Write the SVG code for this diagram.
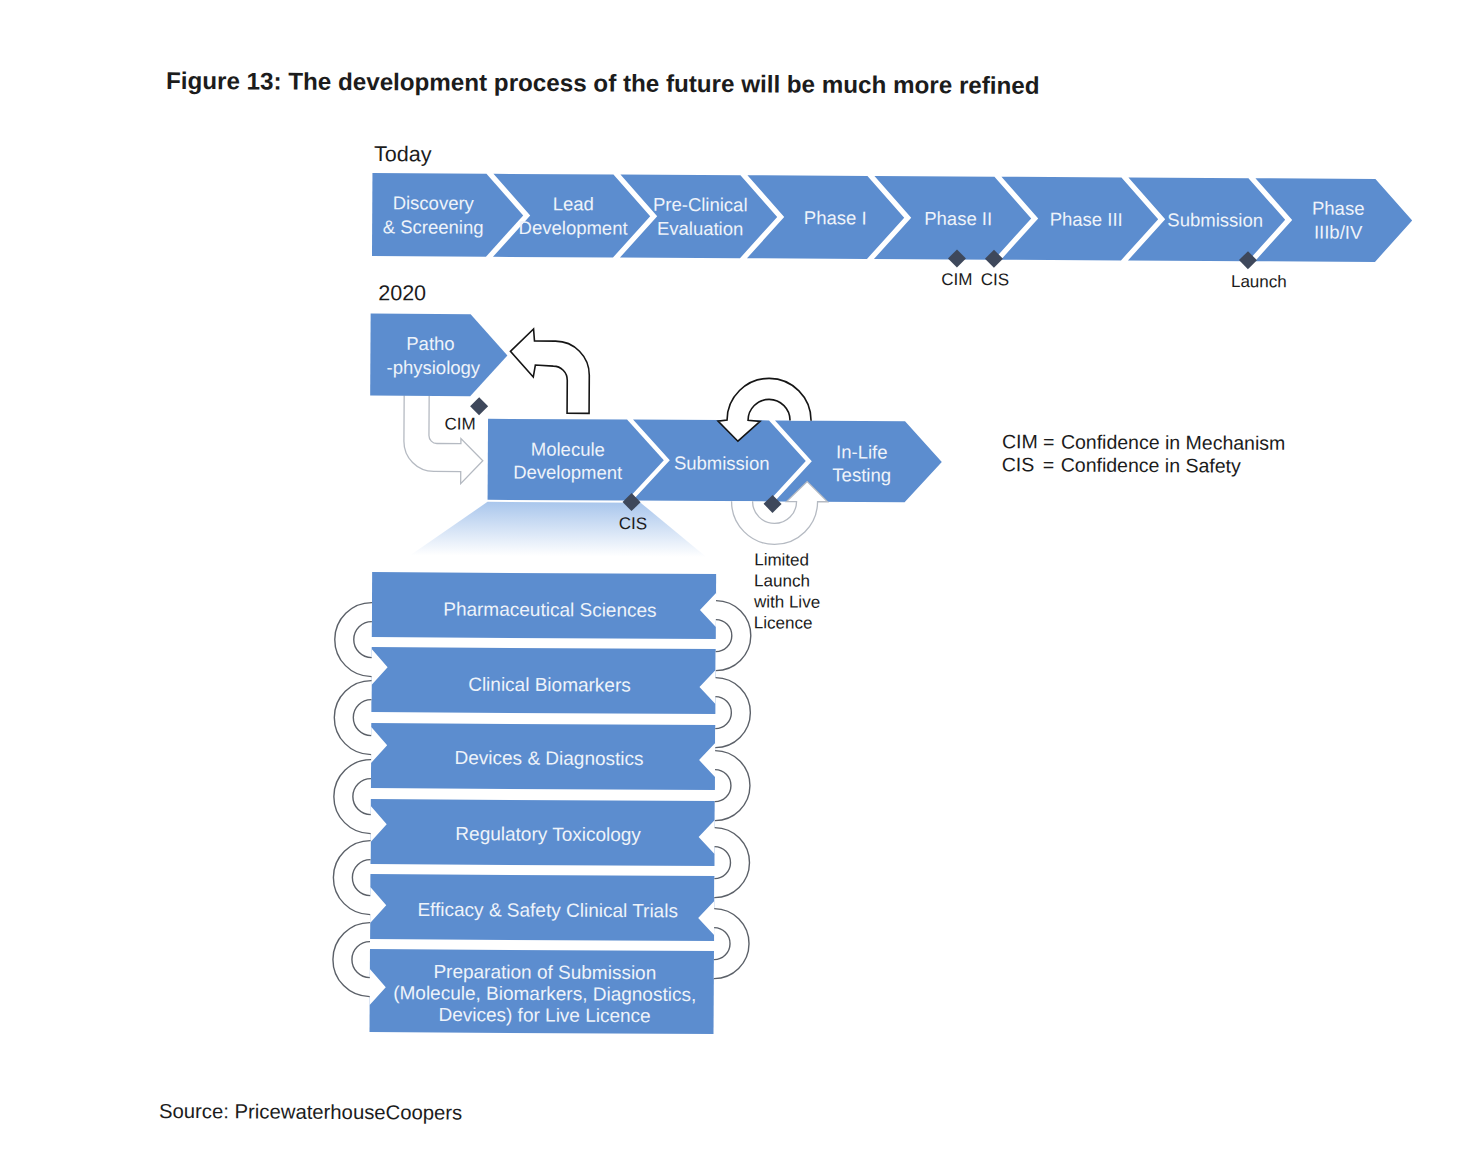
<svg xmlns="http://www.w3.org/2000/svg" width="1462" height="1153" viewBox="0 0 1462 1153">
<defs>
<style>
.t{font-family:"Liberation Sans",Arial,Helvetica,sans-serif}
.blk{fill:#1c1c1c}
.wl{fill:#eef3fa;text-anchor:middle}
.s185{font-size:18.5px}
.s19{font-size:19px}
.s17{font-size:17px}
.mid{text-anchor:middle}
.bx{fill:#5c8dcf}
.dm{fill:#3e485b}
.wf{fill:#fff;stroke:none}
.ls{fill:none;stroke:#5b6068;stroke-width:1.4}
.ks{fill:none;stroke:#151515;stroke-width:1.6;stroke-linejoin:miter}
.ps{fill:none;stroke:#b5bac2;stroke-width:1.3}
</style>
<linearGradient id="fade" x1="0" y1="0" x2="0" y2="1">
<stop offset="0" stop-color="#a9c6ec"/>
<stop offset="1" stop-color="#ffffff"/>
</linearGradient>
<path id="dia" class="dm" d="M0 -9 L9 0 L0 9 L-9 0Z"/>
</defs>
<rect width="1462" height="1153" fill="#fff"/>
<g transform="rotate(0.33 700 600)">

<text class="t blk" x="163" y="92" font-size="24.2" font-weight="bold">Figure 13: The development process of the future will be much more refined</text>
<text class="t blk" x="371.5" y="163" font-size="21.5">Today</text>
<text class="t blk" x="376.5" y="302" font-size="21.5">2020</text>

<!-- Today row -->
<g id="today-row">
<g id="n-discovery"><polygon class="bx" points="370,175 484,175 521,216.5 484,258 370,258"/>
<text class="t wl s185" x="431" y="211">Discovery</text><text class="t wl s185" x="431" y="235">&amp; Screening</text></g>
<g id="n-lead"><polygon class="bx" points="491,175 611,175 648,216.5 611,258 491,258 528,216.5"/>
<text class="t wl s185" x="571" y="211">Lead</text><text class="t wl s185" x="571" y="235">Development</text></g>
<g id="n-preclinical"><polygon class="bx" points="618,175 738,175 775,216.5 738,258 618,258 655,216.5"/>
<text class="t wl s185" x="698" y="211">Pre-Clinical</text><text class="t wl s185" x="698" y="235">Evaluation</text></g>
<g id="n-phase1"><polygon class="bx" points="745,175 865,175 902,216.5 865,258 745,258 782,216.5"/>
<text class="t wl s185" x="833" y="223.5">Phase I</text></g>
<g id="n-phase2"><polygon class="bx" points="872,175 992,175 1029,216.5 992,258 872,258 909,216.5"/>
<text class="t wl s185" x="956" y="223.5">Phase II</text></g>
<g id="n-phase3"><polygon class="bx" points="999,175 1119,175 1156,216.5 1119,258 999,258 1036,216.5"/>
<text class="t wl s185" x="1084" y="223.5">Phase III</text></g>
<g id="n-submission-today"><polygon class="bx" points="1126,175 1246,175 1283,216.5 1246,258 1126,258 1163,216.5"/>
<text class="t wl s185" x="1213" y="223.5">Submission</text></g>
<g id="n-phase3b"><polygon class="bx" points="1253,175 1373,175 1410,216.5 1373,258 1253,258 1290,216.5"/>
<text class="t wl s185" x="1336" y="211">Phase</text><text class="t wl s185" x="1336" y="235">IIIb/IV</text></g>
<g id="today-milestones">
<use href="#dia" x="955" y="257"/><use href="#dia" x="992" y="257"/><use href="#dia" x="1246" y="257"/>
<text class="t blk s17 mid" x="955" y="283.5">CIM</text>
<text class="t blk s17 mid" x="993" y="283.5">CIS</text>
<text class="t blk s17 mid" x="1257" y="284">Launch</text>
</g>
</g>

<!-- 2020 -->
<polygon id="projection" fill="url(#fade)" points="487,503 640,503 706,557 410,557"/>

<g id="connectors-2020">
<path class="wf" d="M403 395 L428 395 L428 437 A8 8 0 0 0 436 445 L460 445 L460 440 L482 462 L460 485 L460 473 L433 473 A30 30 0 0 1 403 443 Z"/>
<path class="ps" d="M428 397 L428 437 A8 8 0 0 0 436 445 L460 445 L460 440 L482 462 L460 485 L460 473 L433 473 A30 30 0 0 1 403 443 L403 397"/>
</g>

<g id="n-patho"><polygon class="bx" points="369,315.5 469,315.5 506,356.5 469,397.5 369,397.5"/>
<text class="t wl s185" x="429" y="351.5">Patho</text><text class="t wl s185" x="432" y="375.5">-physiology</text></g>

<g id="n-molecule"><polygon class="bx" points="487,420 626,420 663,460.5 626,501 487,501"/>
<text class="t wl s185" x="567" y="456.5">Molecule</text><text class="t wl s185" x="567" y="479.5">Development</text></g>
<g id="n-submission"><polygon class="bx" points="632,420 768,420 805,460.5 768,501 632,501 669,460.5"/>
<text class="t wl s185" x="721" y="469.5">Submission</text></g>
<g id="n-inlife"><polygon class="bx" points="774,420 904,420 941,460.5 904,501 774,501 811,460.5"/>
<text class="t wl s185" x="861" y="457.5">In-Life</text><text class="t wl s185" x="861" y="480.5">Testing</text></g>

<g id="connectors-loops-2020">
<path class="wf" d="M731 501 A43 43 0 0 0 817 501 L827 501 L806.5 481 L786 501 L796 501 A22 22 0 0 1 752 501 Z"/>
<path class="ps" d="M731 501 A43 43 0 0 0 817 501 L827 501 L806.5 481 L786 501 L796 501 A22 22 0 0 1 752 501"/>
<path class="wf" d="M810 420 A42 42 0 0 0 726 420 L717 421 L737 441 L759 421 L747 420 A21 21 0 0 1 789 420 Z"/>
<path class="ks" d="M810 420 A42 42 0 0 0 726 420 L717 421 L737 441 L759 421 L747 420 A21 21 0 0 1 789 420"/>
<path class="ks" style="fill:#fff" d="M509 352.5 L532 330 L533 342 L554 342 A34 34 0 0 1 588 376 L588 414 L566 414 L566 381 A14 14 0 0 0 552 367 L534 366 L532 378 Z"/>
</g>

<g id="milestones-2020">
<use href="#dia" x="478" y="407.5"/>
<use href="#dia" x="631" y="502.5"/>
<use href="#dia" x="772" y="503.5"/>
<text class="t blk s17 mid" x="459" y="431">CIM</text>
<text class="t blk s17 mid" x="632.5" y="529.5">CIS</text>
<text class="t blk s17" x="754" y="565">Limited</text>
<text class="t blk s17" x="754" y="586">Launch</text>
<text class="t blk s17" x="754" y="607">with Live</text>
<text class="t blk s17" x="754" y="628">Licence</text>
</g>

<g id="legend">
<text class="t blk" font-size="19.5" x="1001" y="446.5">CIM<tspan x="1042">=</tspan><tspan x="1060">Confidence in Mechanism</tspan></text>
<text class="t blk" font-size="19.5" x="1001" y="469.5">CIS<tspan x="1042">=</tspan><tspan x="1060">Confidence in Safety</tspan></text>
</g>

<!-- stack -->
<g id="n-pharma"><rect class="bx" x="372" y="574" width="344" height="65"/>
<text class="t wl s19" x="550" y="617">Pharmaceutical Sciences</text></g>
<g id="n-biomarkers"><rect class="bx" x="372" y="649" width="344" height="65"/>
<text class="t wl s19" x="550" y="692">Clinical Biomarkers</text></g>
<g id="n-devices"><rect class="bx" x="372" y="725" width="344" height="65"/>
<text class="t wl s19" x="550" y="765.5">Devices &amp; Diagnostics</text></g>
<g id="n-regtox"><rect class="bx" x="372" y="801" width="344" height="65"/>
<text class="t wl s19" x="549.5" y="841.5">Regulatory Toxicology</text></g>
<g id="n-efficacy"><rect class="bx" x="372" y="876" width="344" height="65"/>
<text class="t wl s19" x="549.5" y="917.5">Efficacy &amp; Safety Clinical Trials</text></g>
<g id="n-prep"><rect class="bx" x="372" y="951" width="344" height="83"/>
<text class="t wl s19" x="547" y="979.5">Preparation of Submission</text>
<text class="t wl s19" x="547" y="1001">(Molecule, Biomarkers, Diagnostics,</text>
<text class="t wl s19" x="547" y="1022.5">Devices) for Live Licence</text></g>

<g id="connectors-stack">
<path class="wf" d="M372 604.5 A37 37 0 0 0 372 678.5 L372 687 L388 669 L372 651 L372 659.5 A18 18 0 0 1 372 623.5 Z"/>
<path class="ls" d="M372 604.5 A37 37 0 0 0 372 678.5 M372 659.5 A18 18 0 0 1 372 623.5"/>
<path class="wf" d="M372 682.5 A37 37 0 0 0 372 756.5 L372 765 L388 747 L372 729 L372 737.5 A18 18 0 0 1 372 701.5 Z"/>
<path class="ls" d="M372 682.5 A37 37 0 0 0 372 756.5 M372 737.5 A18 18 0 0 1 372 701.5"/>
<path class="wf" d="M372 761.5 A37 37 0 0 0 372 835.5 L372 844 L388 826 L372 808 L372 816.5 A18 18 0 0 1 372 780.5 Z"/>
<path class="ls" d="M372 761.5 A37 37 0 0 0 372 835.5 M372 816.5 A18 18 0 0 1 372 780.5"/>
<path class="wf" d="M372 842.5 A37 37 0 0 0 372 916.5 L372 925 L388 907 L372 889 L372 897.5 A18 18 0 0 1 372 861.5 Z"/>
<path class="ls" d="M372 842.5 A37 37 0 0 0 372 916.5 M372 897.5 A18 18 0 0 1 372 861.5"/>
<path class="wf" d="M372 924.5 A37 37 0 0 0 372 998.5 L372 1007 L388 989 L372 971 L372 979.5 A18 18 0 0 1 372 943.5 Z"/>
<path class="ls" d="M372 924.5 A37 37 0 0 0 372 998.5 M372 979.5 A18 18 0 0 1 372 943.5"/>

<path class="wf" d="M716 670.5 A35 35 0 0 0 716 600.5 L716 593 L700 610 L716 627 L716 619.5 A16 16 0 0 1 716 651.5 Z"/>
<path class="ls" d="M716 670.5 A35 35 0 0 0 716 600.5 M716 619.5 A16 16 0 0 1 716 651.5"/>
<path class="wf" d="M716 747.5 A35 35 0 0 0 716 677.5 L716 670 L700 687 L716 704 L716 696.5 A16 16 0 0 1 716 728.5 Z"/>
<path class="ls" d="M716 747.5 A35 35 0 0 0 716 677.5 M716 696.5 A16 16 0 0 1 716 728.5"/>
<path class="wf" d="M716 820.5 A35 35 0 0 0 716 750.5 L716 743 L700 760 L716 777 L716 769.5 A16 16 0 0 1 716 801.5 Z"/>
<path class="ls" d="M716 820.5 A35 35 0 0 0 716 750.5 M716 769.5 A16 16 0 0 1 716 801.5"/>
<path class="wf" d="M716 897.5 A35 35 0 0 0 716 827.5 L716 820 L700 837 L716 854 L716 846.5 A16 16 0 0 1 716 878.5 Z"/>
<path class="ls" d="M716 897.5 A35 35 0 0 0 716 827.5 M716 846.5 A16 16 0 0 1 716 878.5"/>
<path class="wf" d="M716 978.5 A35 35 0 0 0 716 908.5 L716 901 L700 918 L716 935 L716 927.5 A16 16 0 0 1 716 959.5 Z"/>
<path class="ls" d="M716 978.5 A35 35 0 0 0 716 908.5 M716 927.5 A16 16 0 0 1 716 959.5"/>
</g>

<text class="t blk" x="162" y="1121" font-size="20.3">Source: PricewaterhouseCoopers</text>
</g>
</svg>
